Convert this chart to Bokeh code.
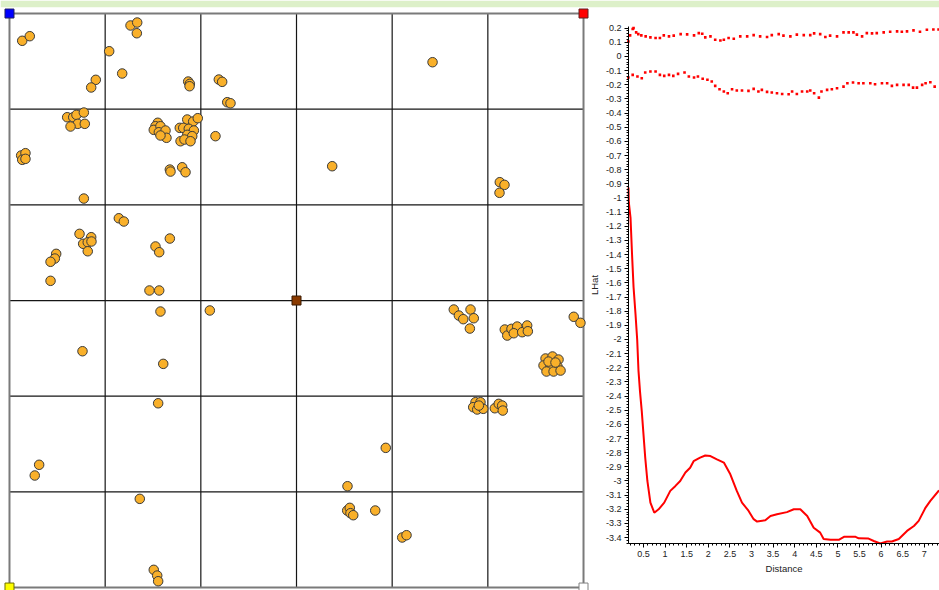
from bokeh.plotting import figure
from bokeh.models import Range1d, LinearAxis, SingleIntervalTicker, CustomJSTickFormatter
from bokeh.embed import file_html
from bokeh.resources import INLINE

# ---------------- map data (grid cell units, 6 x 6 study area) ----------------
grid_lines = [0, 1, 2, 3, 4, 5, 6]

pts_x = [0.133, 0.212, 1.265, 1.335, 1.331, 1.042, 1.178, 0.902, 0.854, 1.868, 1.885, 1.882,
         2.188, 2.223, 2.276, 2.310, 0.603, 0.666, 0.700, 0.777, 0.714, 0.787, 0.638,
         0.122, 0.167, 0.133, 0.167, 0.777,
         1.550, 1.526, 1.508, 1.578, 1.561, 1.631, 1.641, 1.578,
         1.858, 1.920, 1.968, 1.780, 1.816, 1.874, 1.927, 1.858, 1.910, 1.788, 1.829, 1.892,
         2.153, 1.676, 1.683, 1.805, 1.840, 4.422, 3.373, 5.125, 5.174, 5.122,
         1.143, 1.195, 0.732, 0.854, 0.770, 0.818, 0.857, 0.818, 0.488, 0.474, 0.429, 0.429,
         1.676, 1.526, 1.565, 1.463, 1.565, 1.578, 2.094, 0.763, 1.607, 1.554,
         4.644, 4.697, 4.819, 4.743, 4.853, 4.812,
         5.177, 5.203, 5.247, 5.307, 5.271, 5.359, 5.411, 5.418, 5.898, 5.968,
         5.603, 5.676, 5.739, 5.582, 5.655, 5.728, 5.613, 5.687, 5.760, 5.634, 5.707,
         0.310, 0.264, 1.362, 1.508, 1.544, 1.554,
         4.871, 4.923, 4.847, 4.889, 4.952, 4.906, 5.073, 5.114, 5.150, 5.156,
         3.933, 3.533, 3.530, 3.557, 3.564, 3.593, 3.823, 4.105, 4.150]
pts_y = [5.715, 5.763, 5.875, 5.906, 5.794, 5.606, 5.373, 5.307, 5.227, 5.289, 5.265, 5.240,
         5.310, 5.286, 5.073, 5.062, 4.916, 4.916, 4.941, 4.965, 4.847, 4.847, 4.819,
         4.516, 4.540, 4.471, 4.481, 4.066,
         4.858, 4.822, 4.784, 4.822, 4.759, 4.777, 4.701, 4.725,
         4.892, 4.871, 4.906, 4.805, 4.805, 4.795, 4.777, 4.732, 4.718, 4.665, 4.683, 4.665,
         4.718, 4.369, 4.348, 4.393, 4.341, 5.491, 4.404, 4.237, 4.209, 4.126,
         3.860, 3.826, 3.697, 3.662, 3.593, 3.609, 3.617, 3.515, 3.488, 3.439, 3.405, 3.206,
         3.648, 3.565, 3.505, 3.105, 3.105, 2.885, 2.896, 2.470, 2.338, 1.926,
         2.906, 2.843, 2.906, 2.805, 2.815, 2.707,
         2.697, 2.634, 2.704, 2.728, 2.658, 2.669, 2.739, 2.679, 2.830, 2.767,
         2.394, 2.415, 2.383, 2.321, 2.321, 2.310, 2.258, 2.258, 2.268, 2.362, 2.352,
         1.283, 1.171, 0.927, 0.185, 0.125, 0.066,
         1.937, 1.937, 1.885, 1.861, 1.868, 1.902, 1.874, 1.920, 1.902, 1.850,
         1.460, 1.059, 0.805, 0.833, 0.777, 0.756, 0.805, 0.523, 0.547]

corner_x = [0, 6, 0, 6, 3]
corner_y = [6, 6, 0, 0, 3]
corner_fill = ["#0000ff", "#ff0000", "#ffff00", "#ffffff", "#8a3a00"]
corner_line = ["#202060", "#602020", "#707000", "#808080", "#3a1a00"]

# ---------------- LHat data ----------------
lhat_x = [0.153, 0.16, 0.2, 0.238, 0.27, 0.315, 0.354, 0.384, 0.42, 0.46, 0.54, 0.59, 0.66,
          0.75, 0.85, 0.98, 1.12, 1.24, 1.35, 1.47, 1.58, 1.66, 1.81, 1.93, 2.05, 2.2, 2.36,
          2.51, 2.66, 2.78, 2.93, 3.05, 3.13, 3.32, 3.44, 3.59, 3.82, 3.98, 4.13, 4.29, 4.44,
          4.59, 4.67, 4.83, 5.02, 5.14, 5.41, 5.48, 5.71, 5.83, 5.98, 6.14, 6.25, 6.41, 6.6,
          6.76, 6.87, 7.03, 7.14, 7.34]
lhat_y = [-0.926, -1.03, -1.14, -1.42, -1.63, -1.82, -2.0, -2.22, -2.37, -2.506, -2.835, -3.0,
          -3.153, -3.224, -3.2, -3.153, -3.07, -3.035, -3.0, -2.94, -2.906, -2.86, -2.835, -2.82,
          -2.824, -2.847, -2.87, -2.953, -3.07, -3.153, -3.21, -3.27, -3.287, -3.278, -3.247,
          -3.235, -3.22, -3.2, -3.2, -3.247, -3.33, -3.365, -3.41, -3.416, -3.416, -3.395,
          -3.395, -3.405, -3.407, -3.424, -3.442, -3.428, -3.428, -3.41, -3.353, -3.318, -3.282,
          -3.188, -3.141, -3.066]

upper_x = [0.15, 0.19, 0.25, 0.27, 0.33, 0.38, 0.45, 0.55, 0.66, 0.78, 0.88, 0.97, 1.09, 1.2,
           1.36, 1.51, 1.67, 1.78, 1.86, 1.93, 2.05, 2.16, 2.28, 2.36, 2.47, 2.59, 2.74, 2.9,
           3.05, 3.2, 3.36, 3.47, 3.63, 3.74, 3.9, 4.05, 4.21, 4.36, 4.45, 4.59, 4.71, 4.82,
           4.98, 5.13, 5.25, 5.36, 5.44, 5.56, 5.67, 5.79, 5.9, 6.06, 6.21, 6.37, 6.48, 6.6,
           6.75, 6.9, 7.06, 7.21, 7.33]
upper_y = [0.106, 0.149, 0.194, 0.2, 0.17, 0.158, 0.149, 0.142, 0.135, 0.13, 0.13, 0.149, 0.142,
           0.147, 0.158, 0.156, 0.149, 0.165, 0.16, 0.135, 0.142, 0.118, 0.113, 0.118, 0.13,
           0.125, 0.142, 0.142, 0.151, 0.142, 0.137, 0.151, 0.158, 0.147, 0.142, 0.154, 0.151,
           0.151, 0.163, 0.158, 0.137, 0.147, 0.142, 0.17, 0.17, 0.17, 0.154, 0.142, 0.165,
           0.163, 0.165, 0.17, 0.175, 0.177, 0.175, 0.177, 0.184, 0.175, 0.189, 0.191, 0.191]

lower_x = [0.15, 0.25, 0.36, 0.46, 0.54, 0.66, 0.78, 0.88, 0.98, 1.09, 1.19, 1.3, 1.45, 1.55,
           1.67, 1.76, 1.87, 1.98, 2.08, 2.16, 2.26, 2.36, 2.45, 2.55, 2.66, 2.78, 2.93, 3.05,
           3.16, 3.24, 3.36, 3.47, 3.59, 3.71, 3.86, 3.94, 4.05, 4.17, 4.29, 4.36, 4.45, 4.56,
           4.62, 4.75, 4.86, 4.98, 5.13, 5.22, 5.35, 5.48, 5.59, 5.75, 5.86, 6.02, 6.14, 6.25,
           6.37, 6.52, 6.64, 6.74, 6.83, 6.95, 7.03, 7.14, 7.24]
lower_y = [-0.149, -0.13, -0.142, -0.154, -0.113, -0.106, -0.106, -0.13, -0.137, -0.13, -0.137,
           -0.123, -0.113, -0.142, -0.149, -0.142, -0.158, -0.165, -0.177, -0.208, -0.232,
           -0.248, -0.26, -0.232, -0.241, -0.241, -0.243, -0.229, -0.248, -0.236, -0.25, -0.255,
           -0.26, -0.265, -0.267, -0.248, -0.265, -0.248, -0.248, -0.241, -0.26, -0.291, -0.248,
           -0.236, -0.232, -0.225, -0.213, -0.189, -0.184, -0.189, -0.189, -0.189, -0.196,
           -0.189, -0.189, -0.208, -0.201, -0.201, -0.201, -0.22, -0.22, -0.201, -0.189, -0.182,
           -0.213]

# axis extents of the LHat chart
dist_lo, dist_hi = 0.153, 7.352
lhat_lo, lhat_hi = -3.442, 0.212

FONT = "Liberation Sans"

# One canvas: the map uses the main ranges, the LHat chart uses extra ranges.
p = figure(width=939, height=590, output_backend="svg", toolbar_location=None,
           x_range=Range1d(-0.094, 9.721), y_range=Range1d(-0.031, 6.063),
           x_axis_type=None, y_axis_type=None,
           min_border=0, min_border_top=7, outline_line_color=None,
           background_fill_color="white", border_fill_color="#ddf0c9")
p.extra_x_ranges = {"dist": Range1d(-14.384, dist_hi)}
p.extra_y_ranges = {"lhat": Range1d(-3.774, 0.346)}

# ---- map ----
inner = grid_lines[1:-1]
lo = [grid_lines[0]] * len(inner)
hi = [grid_lines[-1]] * len(inner)
p.segment(x0=inner, y0=lo, x1=inner, y1=hi, line_color="#151515", line_width=1.2)
p.segment(x0=lo, y0=inner, x1=hi, y1=inner, line_color="#151515", line_width=1.2)
p.quad(left=[grid_lines[0]], right=[grid_lines[-1]], bottom=[grid_lines[0]], top=[grid_lines[-1]],
       fill_color=None, line_color="#7a7a7a", line_width=2)
p.scatter(pts_x, pts_y, size=9.5, fill_color="#f9b02a", line_color="#3a3a3a", line_width=1)
p.scatter(corner_x, corner_y, marker="square", size=9, fill_color=corner_fill,
          line_color=corner_line, line_width=1)

# ---- LHat chart ----
fmt = CustomJSTickFormatter(code="return String(Number(tick.toFixed(1)));")
xax = LinearAxis(x_range_name="dist", y_range_name="lhat", fixed_location=lhat_lo,
                 bounds=(dist_lo, dist_hi), axis_label="Distance",
                 ticker=SingleIntervalTicker(interval=0.5, num_minor_ticks=5), formatter=fmt)
yax = LinearAxis(x_range_name="dist", y_range_name="lhat", fixed_location=dist_lo,
                 bounds=(lhat_lo, lhat_hi), axis_label="LHat",
                 ticker=SingleIntervalTicker(interval=0.1, num_minor_ticks=5), formatter=fmt)
for ax in (xax, yax):
    ax.major_label_text_font = FONT
    ax.major_label_text_font_size = "9px"
    ax.major_label_text_color = "#222222"
    ax.axis_label_text_font = FONT
    ax.axis_label_text_font_size = "9.5px"
    ax.axis_label_text_font_style = "normal"
    ax.axis_label_text_color = "#222222"
    ax.axis_line_color = "black"
    ax.major_tick_line_color = "black"
    ax.minor_tick_line_color = "black"
    ax.major_tick_out = 4
    ax.major_tick_in = 0
    ax.minor_tick_out = 2
    ax.minor_tick_in = 0
    ax.major_label_standoff = 3
    ax.axis_label_standoff = 3
p.add_layout(xax, "below")
p.add_layout(yax, "left")

p.line(lhat_x, lhat_y, line_color="#ff0000", line_width=2,
       x_range_name="dist", y_range_name="lhat")
p.scatter(upper_x, upper_y, marker="square", size=2.6, fill_color="#ff0000", line_color=None,
          x_range_name="dist", y_range_name="lhat")
p.scatter(lower_x, lower_y, marker="square", size=2.6, fill_color="#ff0000", line_color=None,
          x_range_name="dist", y_range_name="lhat")

open("out.html", "w").write(file_html(p, INLINE, title="LHat"))
